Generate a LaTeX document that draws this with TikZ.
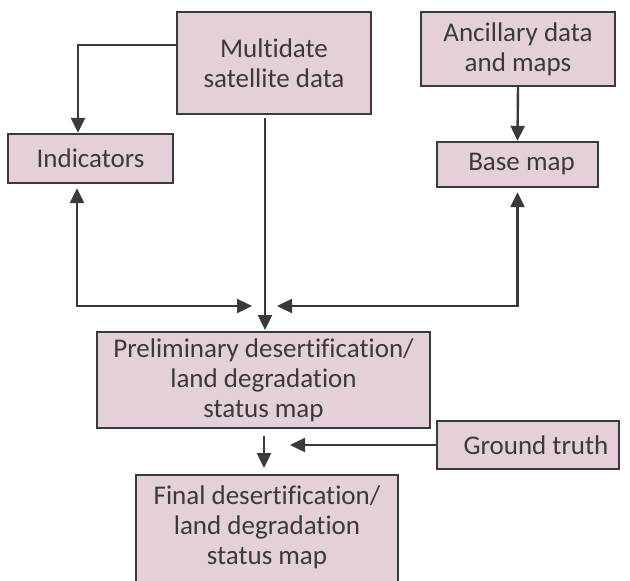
\documentclass[tikz,border=0pt]{standalone}
\usepackage{fontspec}
\setmainfont{Carlito}[Ligatures=NoCommon]
\usetikzlibrary{arrows.meta}
\definecolor{boxfill}{HTML}{E3D0DA}
\definecolor{boxline}{HTML}{3A3A3C}
\definecolor{txt}{HTML}{3A3A3C}
\tikzset{
  x=1pt, y=-1pt,
  box/.style={draw=boxline, line width=2.4pt, fill=boxfill, text=txt, align=center,
    font=\fontsize{27}{30}\selectfont, inner sep=0pt, rectangle},
  lbl/.style={text=txt, align=center, font=\fontsize{27}{30}\selectfont, inner sep=0pt},
  arr/.style={draw=boxline, line width=2.4pt, -{Triangle[length=15pt,width=14pt]}},
  darr/.style={draw=boxline, line width=2.4pt, {Triangle[length=15pt,width=14pt]}-{Triangle[length=15pt,width=14pt]}}
}
\begin{document}
\begin{tikzpicture}
\useasboundingbox (0,0) rectangle (630,581);
\node[box, minimum width=194pt, minimum height=102pt] (multi) at (274,63) {Multidate\\satellite data};
\node[box, minimum width=194pt, minimum height=74pt] (anc) at (518,49) {Ancillary data\\and maps};
\node[box, minimum width=161pt, minimum height=45pt] (base) at (517.5,164.5) {\hspace*{8pt}Base map};
\node[box, minimum width=165pt, minimum height=49pt] (ind) at (90.5,158.5) {Indicators};
\node[box, minimum width=333pt, minimum height=96pt] (prelim) at (263.5,380) {Preliminary desertification/\\land degradation\\status map};
\node[box, minimum width=182pt, minimum height=48pt] (ground) at (528,445) {\hspace*{16pt}Ground truth};
\node[box, minimum width=262pt, minimum height=124pt, anchor=north] (final) at (267,474) {};
\node[lbl] (finaltext) at (267,527) {Final desertification/\\land degradation\\status map};
\coordinate (hubL) at (252,306);
\coordinate (hubR) at (277,306);
\coordinate (hubB) at (265,330);
\coordinate (mid) at (264,436);
\coordinate (midB) at (264,468);
\coordinate (gt) at (290,445);
\draw[arr] ([yshift=18pt]multi.west) -| ([xshift=-12.5pt]ind.north);
\draw[arr] ([xshift=-9pt]multi.south) ++(0,3) -- (hubB);
\draw[darr] ([xshift=-13.5pt,yshift=-4pt]ind.south) |- (hubL);
\draw[darr] ([yshift=-4pt]base.south) |- (hubR);
\draw[arr] (anc.south) -- (base.north);
\draw[arr] (mid) -- (midB);
\draw[arr] (ground.west) -- (gt);
\end{tikzpicture}
\end{document}
